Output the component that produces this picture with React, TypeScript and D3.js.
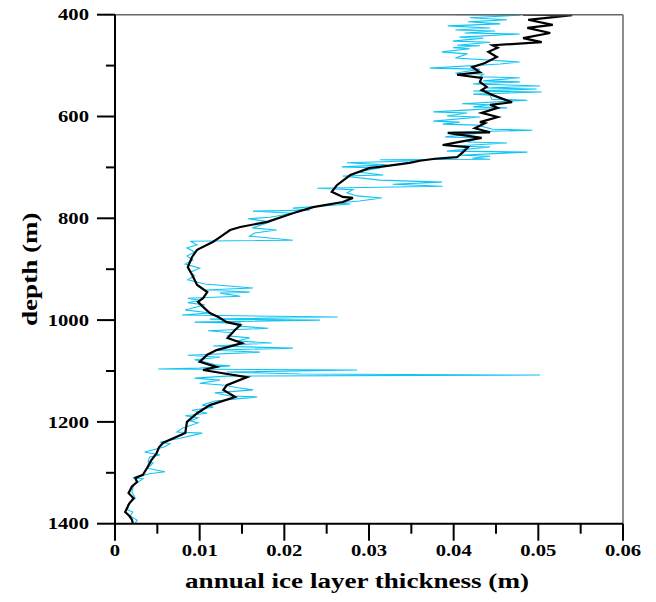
import React from "react";
import * as d3 from "d3";

// smoothed series (black)
const blackDepth = [400,401,410,420,426,436,446,454,460,465,473,483,495,503,513,518,524,532,542,548,558,572,577,583,593,601,611,613,623,631,632,642,650,656,660,670,680,683,687,691,699,701,715,735,748,758,760,768,778,790,807,817,823,837,846,862,876,896,911,931,945,957,964,974,986,994,1004,1010,1019,1035,1045,1059,1068,1082,1092,1098,1112,1128,1137,1151,1167,1183,1200,1222,1241,1250,1262,1275,1290,1304,1310,1318,1327,1340,1350,1360,1370,1377,1385,1392,1399];
const blackThickness = [.0482,.0540,.0488,.0517,.0487,.0514,.0482,.0504,.0446,.0452,.0441,.0451,.0437,.0422,.0431,.0404,.0433,.0431,.0439,.0433,.0446,.0469,.0443,.0452,.0433,.0452,.0431,.0437,.0425,.0443,.0393,.0433,.0407,.0387,.0417,.0411,.0404,.0378,.0360,.0348,.0313,.0301,.0278,.0262,.0256,.0269,.0281,.0269,.0234,.0210,.0180,.0148,.0136,.0124,.0116,.0097,.0091,.0086,.0091,.0097,.0109,.0104,.0098,.0104,.0112,.0122,.0132,.0148,.0142,.0133,.0150,.0120,.0109,.0100,.0120,.0104,.0156,.0132,.0128,.0142,.0112,.0097,.0085,.0083,.0057,.0052,.0049,.0043,.0038,.0033,.0024,.0026,.0020,.0016,.0022,.0017,.0014,.0012,.0017,.0020,.0021];

// raw series (cyan)
const cyanDepth = [400,401,406,410,414,418,422,426,430,432,436,438,444,446,452,454,460,461,465,467,473,477,485,493,497,505,507,515,517,522,524,530,532,536,540,544,546,550,552,556,558,566,568,575,577,581,583,591,593,599,601,609,611,615,617,625,627,631,632,640,642,650,652,658,660,668,670,676,678,682,684,
685,687,691,695,699,701,709,715,717,725,729,733,737,741,744,750,756,760,766,770,772,780,784,786,790,798,801,807,819,823,829,835,843,845,852,858,866,874,882,890,898,906,913,921,929,937,941,945,947,953,957,961,
966,970,980,986,990,994,998,1000,1004,1006,1012,1016,1021,1025,1031,1035,1041,1045,1051,1055,1059,1063,1069,1073,1078,1082,1088,1090,1094,1096,1098,1102,1106,1108,1110,1114,1118,1124,1128,1133,1137,1143,1149,1151,1159,1167,1171,1177,1183,1188,1192,
1198,1202,1212,1220,1222,1232,1240,1243,1249,1259,1265,1269,1279,1281,1291,1298,1302,1310,1312,1324,1338,1350,1363,1373,1377,1385,1393,1399];
const cyanThickness = [.0402,.0478,.0419,.0463,.0417,.0455,.0393,.0443,.0402,.0449,.0413,.0478,.0407,.0435,.0399,.0443,.0404,.0431,.0399,.0419,.0386,.0416,.0402,.0478,.0455,.0372,.0431,.0402,.0435,.0431,.0478,.0435,.0478,.0423,.0502,.0439,.0498,.0423,.0504,.0423,.0443,.0445,.0487,.0410,.0443,.0423,.0463,.0376,.0416,.0392,.0431,.0376,.0407,.0387,.0428,.0446,.0493,.0398,.0435,.0390,.0431,.0416,.0463,.0402,.0443,.0392,.0487,.0407,.0443,.0422,.0443,
.0313,.0357,.0274,.0321,.0268,.0313,.0286,.0317,.0269,.0313,.0386,.0328,.0387,.0239,.0281,.0274,.0286,.0315,.0289,.0262,.0278,.0210,.0230,.0163,.0210,.0183,.0157,.0183,.0162,.0191,.0165,.0159,.0210,.0089,.0097,.0085,.0094,.0085,.0092,.0083,.0100,.0089,.0094,.0086,.0106,.0163,.0106,.0159,.0124,.0148,.0086,.0100,
.0086,.0106,.0083,.0112,.0079,.0263,.0112,.0242,.0094,.0148,.0148,.0181,.0110,.0139,.0133,.0159,.0144,.0185,.0116,.0210,.0118,.0171,.0086,.0124,.0094,.0106,.0118,.0136,.0100,.0051,.0286,.0132,.0219,.0502,.0132,.0094,.0124,.0100,.0130,.0145,.0163,.0118,.0136,.0168,.0118,.0103,.0116,.0091,.0109,.0083,.0098,
.0089,.0098,.0080,.0073,.0103,.0077,.0053,.0065,.0059,.0035,.0053,.0041,.0039,.0045,.0038,.0059,.0041,.0021,.0033,.0022,.0020,.0024,.0015,.0015,.0021,.0018,.0026,.0024];

const xMajorTicks = [0, 0.01, 0.02, 0.03, 0.04, 0.05, 0.06];
const xMinorTicks = [0.005, 0.015, 0.025, 0.035, 0.045, 0.055];
const yMajorTicks = [400, 600, 800, 1000, 1200, 1400];
const yMinorTicks = [500, 700, 900, 1100, 1300];
const xTitle = "annual ice layer thickness (m)";
const yTitle = "depth (m)";

const W = 656, H = 602;
const L = 115, R = 623, T = 14.7, B = 523.7;
const FONT = "'Liberation Serif', 'Times New Roman', serif";
const STRETCH = 1.29;

function WideText(props: { x: number; y: number; anchor: string; size: number; children: string; dy?: string }) {
  const { x, y, anchor, size, children, dy } = props;
  return (
    <text
      transform={`translate(${x},${y}) scale(${STRETCH},1)`}
      dy={dy}
      textAnchor={anchor}
      fontFamily={FONT}
      fontWeight="bold"
      fontSize={size}
    >
      {children}
    </text>
  );
}

export default function App() {
  const x = d3.scaleLinear().domain([0, 0.06]).range([L, R]);
  const y = d3.scaleLinear().domain([400, 1400]).range([T, B]);
  const line = d3.line<[number, number]>().x(d => x(d[1])).y(d => y(d[0]));
  const cyanPts = cyanDepth.map((d, i) => [d, cyanThickness[i]] as [number, number]);
  const blackPts = blackDepth.map((d, i) => [d, blackThickness[i]] as [number, number]);
  const fmt = (v: number) => (v === 0 ? "0" : d3.format(".2f")(v));

  return (
    <svg width={W} height={H} style={{ position: "absolute", left: 0, top: 0, background: "#fff" }}>
      <defs>
        <clipPath id="plot">
          <rect x={L} y={T} width={R - L} height={B - T} />
        </clipPath>
      </defs>
      <g clipPath="url(#plot)">
        <path d={line(cyanPts) || ""} fill="none" stroke="#10C4F4" strokeWidth={1.1} strokeLinejoin="miter" />
        <path d={line(blackPts) || ""} fill="none" stroke="#000" strokeWidth={2.2} strokeLinejoin="miter" />
      </g>
      {/* frame */}
      <line x1={L} x2={R} y1={T} y2={T} stroke="#666" strokeWidth={1.5} />
      <line x1={R} x2={R} y1={T} y2={B} stroke="#666" strokeWidth={1.5} />
      <line x1={L} x2={L} y1={T} y2={B} stroke="#000" strokeWidth={2} />
      <line x1={L} x2={R} y1={B} y2={B} stroke="#000" strokeWidth={2} />
      {/* x ticks */}
      {xMajorTicks.map(t => (
        <g key={"xM" + t}>
          <line x1={x(t)} x2={x(t)} y1={B} y2={B + 17} stroke="#000" strokeWidth={2} />
          <WideText x={x(t)} y={556} anchor="middle" size={16}>{fmt(t)}</WideText>
        </g>
      ))}
      {xMinorTicks.map(t => (
        <line key={"xm" + t} x1={x(t)} x2={x(t)} y1={B} y2={B + 10} stroke="#000" strokeWidth={2} />
      ))}
      {/* y ticks */}
      {yMajorTicks.map(t => (
        <g key={"yM" + t}>
          <line x1={L - 18} x2={L} y1={y(t)} y2={y(t)} stroke="#000" strokeWidth={2} />
          <WideText x={89} y={y(t)} dy="0.35em" anchor="end" size={16}>{String(t)}</WideText>
        </g>
      ))}
      {yMinorTicks.map(t => (
        <line key={"ym" + t} x1={L - 9} x2={L} y1={y(t)} y2={y(t)} stroke="#000" strokeWidth={2} />
      ))}
      <WideText x={(L + R) / 2 - 12} y={588} anchor="middle" size={21}>{xTitle}</WideText>
      <text
        transform={`translate(37, ${(T + B) / 2}) rotate(-90) scale(${STRETCH},1)`}
        textAnchor="middle"
        fontFamily={FONT}
        fontWeight="bold"
        fontSize={21}
      >
        {yTitle}
      </text>
    </svg>
  );
}
